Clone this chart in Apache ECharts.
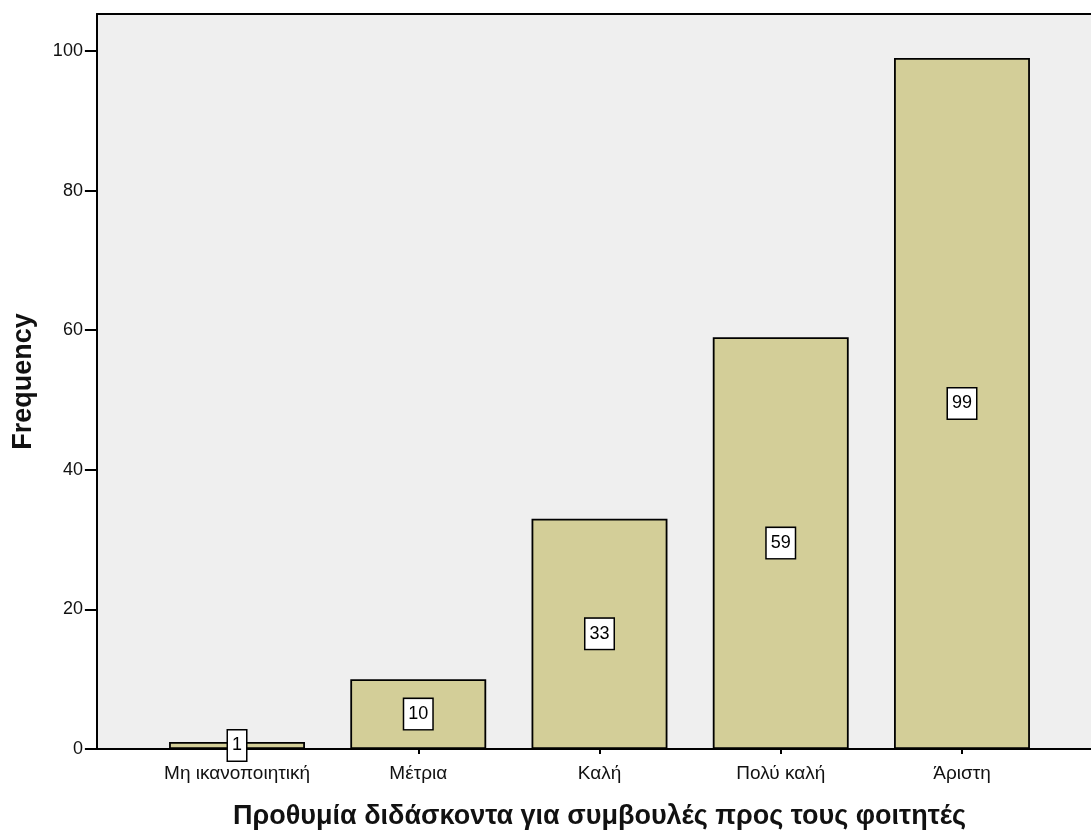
<!DOCTYPE html>
<html>
<head>
<meta charset="utf-8">
<script src="https://cdn.jsdelivr.net/npm/echarts@6/dist/echarts.min.js"></script>
<style>html,body{margin:0;padding:0;background:#fff}#c{width:1091px;height:832px}</style>
</head>
<body>
<div id="c"></div>
<script>
const categories = ['Μη ικανοποιητική', 'Μέτρια', 'Καλή', 'Πολύ καλή', 'Άριστη'];
const frequencies = [1, 10, 33, 59, 99];
const yTicks = [0, 20, 40, 60, 80, 100];
const xTitle = 'Προθυμία διδάσκοντα για συμβουλές προς τους φοιτητές';
const yTitle = 'Frequency';

const font = '"Liberation Sans", Arial, sans-serif';
const chart = echarts.init(document.getElementById('c'), null, {renderer: 'canvas'});
chart.setOption({
  animation: false,
  grid: [
    {left: 97, right: 0, top: 14, bottom: 83, show: true, backgroundColor: '#efefef', borderWidth: 0, outerBoundsMode: 'none', containLabel: false},
    {left: 146.4, right: 38.4, top: 14, bottom: 83, outerBoundsMode: 'none', containLabel: false}
  ],
  xAxis: [
    {gridIndex: 0, type: 'value', position: 'bottom', min: 0, max: 1,
     axisLine: {show: true, lineStyle: {color: '#000', width: 2}},
     axisTick: {show: false}, axisLabel: {show: false}, splitLine: {show: false}},
    {gridIndex: 0, type: 'value', position: 'top', min: 0, max: 1,
     axisLine: {show: true, lineStyle: {color: '#000', width: 2}},
     axisTick: {show: false}, axisLabel: {show: false}, splitLine: {show: false}},
    {gridIndex: 1, type: 'category', data: categories, boundaryGap: true,
     axisLine: {show: false},
     axisTick: {show: true, alignWithLabel: true, interval: 0, length: 5, lineStyle: {color: '#000', width: 2}},
     axisLabel: {color: '#111', fontSize: 19, fontFamily: font, margin: 15, interval: 0, hideOverlap: false},
     name: xTitle, nameLocation: 'middle', nameGap: 54,
     nameTextStyle: {fontSize: 27, fontWeight: 'bold', color: '#111', fontFamily: font}}
  ],
  yAxis: [
    {gridIndex: 0, type: 'value', min: 0, max: 1, show: false},
    {gridIndex: 1, type: 'value', min: 0, max: 105.3, interval: 20, offset: 49.5,
     axisLine: {show: true, lineStyle: {color: '#000', width: 2}},
     axisTick: {show: true, length: 12, customValues: yTicks, lineStyle: {color: '#000', width: 2}},
     axisLabel: {color: '#111', fontSize: 18, fontFamily: font, margin: 14, customValues: yTicks},
     splitLine: {show: false},
     name: yTitle, nameLocation: 'middle', nameGap: 60,
     nameTextStyle: {fontSize: 27, fontWeight: 'bold', color: '#111', fontFamily: font}}
  ],
  series: [{
    type: 'bar', xAxisIndex: 2, yAxisIndex: 1,
    data: frequencies,
    barCategoryGap: '25%',
    itemStyle: {color: '#d3ce98', borderColor: '#000', borderWidth: 1.8},
    label: {show: true, position: 'inside', color: '#000', fontSize: 18, fontFamily: font,
      backgroundColor: '#fff', borderColor: '#000', borderWidth: 1.5, padding: [7, 4, 5, 4]}
  }]
});
</script>
</body>
</html>
